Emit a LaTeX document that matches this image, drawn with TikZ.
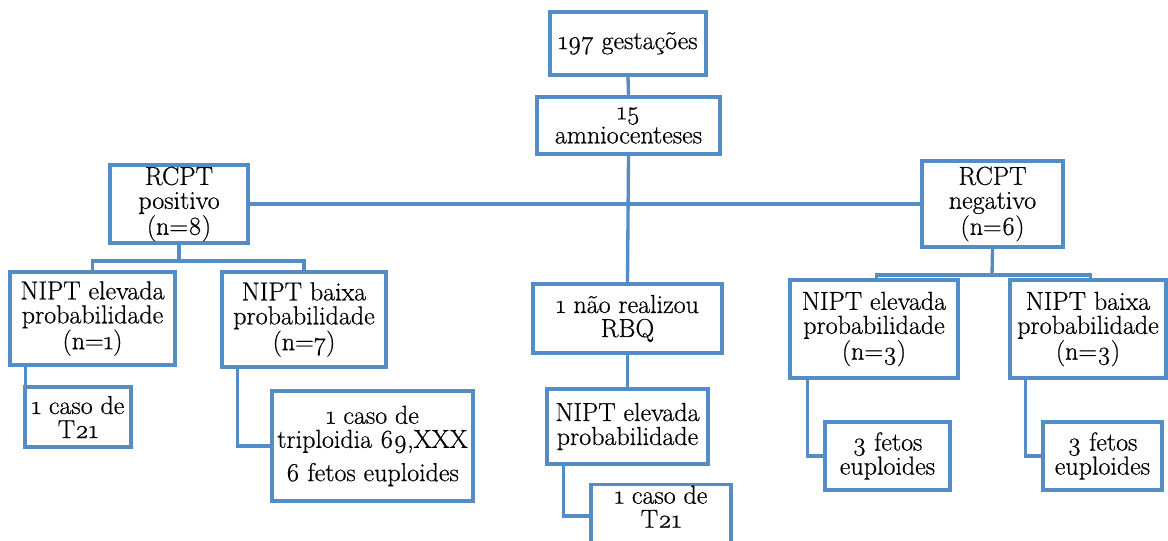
\documentclass[tikz,border=0pt]{standalone}
\usepackage{fontspec}
\setmainfont{Latin Modern Roman}[Numbers=OldStyle, FakeBold=0.6]
\definecolor{edge}{RGB}{84,141,198}
\tikzset{
  box/.style 2 args={draw=edge, line width=2.5pt, fill=white, align=center,
    inner sep=1pt, minimum width=#1*0.75pt, minimum height=#2*0.75pt,
    font=\fontsize{19.5}{18}\selectfont},
  link/.style={draw=edge, line width=2.5pt}
}
\begin{document}
\begin{tikzpicture}[x=0.75pt,y=-0.75pt]
\useasboundingbox (0,0) rectangle (1168,541);
% junction points of the two branching connectors
\coordinate (jl) at (179,261);
\coordinate (jr) at (992,275);
% boxes
\node[box={156}{63}] (g) at (628,43.5) {197 gestações};
\node[box={183}{57}] (a) at (628.5,125.5) {15\\amniocenteses};
\node[box={138}{78}] (pos) at (179,204) {RCPT\\positivo\\(n=8)};
\node[box={141}{86}] (neg) at (992.5,204) {RCPT\\negativo\\(n=6)};
\node[box={165}{93}] (pe) at (92.5,318.5) {NIPT elevada\\probabilidade\\(n=1)};
\node[box={164}{95}] (pb) at (304,319.5) {NIPT baixa\\probabilidade\\(n=7)};
\node[box={106}{60}] (pt) at (78,417) {1 caso de\\T21};
\node[box={201}{110}] (pk) at (372.5,446) {1 caso de\\triploidia 69,XXX\\[7pt]6 fetos euploides};
\node[box={189}{69}] (nr) at (627.5,318.5) {1 não realizou\\RBQ};
\node[box={161}{75}] (me) at (627.5,426.5) {NIPT elevada\\probabilidade};
\node[box={140}{58}, text depth=14pt] (mt) at (661,516) {1 caso de\\T21};
\node[box={168}{98}] (ne) at (874,329) {NIPT elevada\\probabilidade\\(n=3)};
\node[box={156}{98}] (nb) at (1088,329) {NIPT baixa\\probabilidade\\(n=3)};
\node[box={125}{68}] (ne3) at (887.5,456) {3 fetos\\euploides};
\node[box={119}{68}] (nb3) at (1102.5,456) {3 fetos\\euploides};
% connectors
\draw[link] (g.south) -- (a.north);
\draw[link] (a.south) -- (nr.north);
\draw[link] (pos.east) -- (pos.east -| neg.west);
\draw[link] (pos.south) -- (jl);
\draw[link] (pe.north) |- (jl) -| (pb.north);
\draw[link] (neg.south) -- (jr);
\draw[link] ([xshift=2pt]ne.north) |- (jr) -| ([xshift=2pt]nb.north);
\draw[link] ([xshift=1.5pt]pt.north west) -- ([xshift=1.5pt]pt.north west |- pe.south);
\draw[link] ([xshift=12.75pt]pb.south west) |- (pk.west);
\draw[link] (nr.south) -- (me.north);
\draw[link] ([xshift=13.5pt]me.south west) |- (mt.west);
\draw[link] ([xshift=14.25pt]ne.south west) |- (ne3.west);
\draw[link] ([xshift=12.75pt]nb.south west) |- (nb3.west);
\end{tikzpicture}
\end{document}
